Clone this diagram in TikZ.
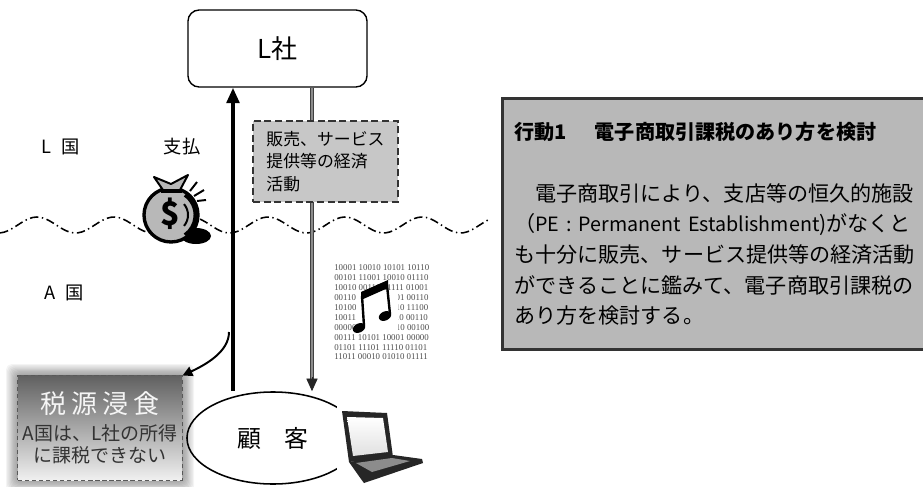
\documentclass[tikz,border=0pt]{standalone}
\usepackage{fontspec}
\setmainfont{Noto Sans CJK JP}
\newfontfamily\binfont{Liberation Serif}
\usetikzlibrary{arrows.meta,shapes.geometric}

\newcommand\actionfont{\fontsize{15}{19.2}\selectfont}

\tikzset{
  firmbox/.style={draw, line width=1pt, rounded corners=0.28cm, fill=white,
    minimum width=4.475cm, minimum height=1.925cm, font=\fontsize{18.5}{20}\selectfont},
  custnode/.style={ellipse, draw, line width=1.1pt, minimum width=4.3cm,
    minimum height=2.3cm, inner sep=0pt, font=\fontsize{17}{20}\selectfont},
  flowbox/.style={draw=black!80, line width=1.1pt, dash pattern=on 5pt off 2.6pt,
    fill=black!22, minimum width=3.625cm, minimum height=2.025cm, align=left,
    inner sep=0pt, font=\fontsize{12}{16}\selectfont},
  taxbox/.style={draw=black!65, line width=0.7pt, densely dashed, top color=black!62,
    bottom color=black!6, minimum width=4.1cm, minimum height=2.6cm, align=center,
    inner sep=0pt, text=black!80, font=\fontsize{13.5}{16}\selectfont},
  actionbox/.style={draw=black!80, line width=1.8pt, fill=black!28, text width=10.3cm,
    inner xsep=0.3cm, minimum height=6.275cm, align=left, font=\actionfont},
  country/.style={font=\fontsize{13}{13}\selectfont, inner sep=0pt},
  payflow/.style={line width=2.6pt, -{Triangle[length=11pt,width=9pt]}},
  sellflow/.style={draw=black!75, line width=0.7pt, double=black!45, double distance=2pt,
    shorten >=8pt},
  selltip/.style={black!85, line width=0.6pt, -{Triangle[length=9pt,width=8pt]}},
  lossflow/.style={line width=1.4pt, -{Triangle[length=7pt,width=7pt]}},
  borderline/.style={line width=1.1pt, dash pattern=on 6pt off 2.5pt on 1pt off 2.5pt},
  bintext/.style={font=\binfont\fontsize{6.3}{6.3}\selectfont, text=black!70,
    inner sep=0pt, anchor=west}
}

\begin{document}
\begin{tikzpicture}[x=0.025cm, y=-0.025cm]
\useasboundingbox (0,0) rectangle (923,487);

% company and customer
\node[firmbox] (firm) at (277.5,48.5) {L社};
\node[custnode] (cust) at (273,438) {顧　客};

% border between the two countries
\draw[borderline] plot[domain=0:488, samples=120] (\x, {225-8*cos(4.6753*(\x-37))});

\node[country] (lland) at (61,147) {L\hspace{0.55em}国};
\node[country] (aland) at (64,293) {A\hspace{0.55em}国};
\node[country] (paylbl) at (182,147) {支払};

% money bag
\fill[black] (196,236) ellipse (15 and 8);
\draw[line width=2.4pt, fill=black!28] (171,215) circle (27);
\draw[line width=3.5pt] (171,215) ++(-55:25) arc (-55:55:25);
\draw[line width=1.4pt] (171,215) ++(-40:17) arc (-40:40:17);
\draw[line width=1.4pt, fill=black!28, line join=round] (163,190) -- (154,177) -- (171,184) -- (188,175) -- (180,190) -- cycle;
\draw[line width=2.2pt] (161,191) -- (182,191);
\draw[line width=1.4pt] (190,191) -- (197,182) (194,196) -- (204,190) (197,201) -- (206,200);
\node (dollar) at (170,214) {\fontsize{23}{23}\selectfont\bfseries\$};

% payment and sales flows
\coordinate (payx) at (233,0);
\coordinate (sellx) at (312,0);
\draw[payflow] (payx |- cust.north) -- (payx |- firm.south);
\draw[sellflow] (sellx |- firm.south) -- (sellx |- cust.north);
\coordinate (sellend) at (sellx |- cust.north);
\draw[selltip] ([yshift=10pt]sellend) -- (sellend);

\node[flowbox] (flow) at (325.5,161.5) {販売、サービス\\提供等の経済\\活動};

% digital content
\foreach \bits [count=\i] in {10001 10010 10101 10110, 00101 11001 10010 01110,
    10010 00110 01111 01001, 00110 01010 11001 00110, 10100 10011 00110 11100,
    10011 01101 01110 00110, 00000 11010 10010 00100, 00111 10101 10001 00000,
    01101 11101 11110 01101, 11011 00010 01010 01111}
  \node[bintext] (bits\i) at (334,258+9.9*\i) {\bits};
\fill[white] (356,292) rectangle (398,332);
\fill[black, rotate around={25:(359,328)}] (359,328) ellipse (6.5 and 4.5);
\fill[black, rotate around={25:(385,316)}] (385,316) ellipse (6.5 and 4.5);
\draw[line width=1.7pt] (364,326) -- (362,296);
\draw[line width=1.7pt] (390,314) -- (387,285);
\fill[black] (361,292) -- (388,280) -- (388,288) -- (361,300) -- cycle;

% tax base erosion
\coordinate (taxsw) at (18,480);
\coordinate (taxne) at (182,376);
\foreach \g in {1,...,10}
  \fill[black, opacity=0.045, rounded corners=4pt]
    ([shift={(-1.2*\g,1.2*\g)}]taxsw) rectangle ([shift={(1.2*\g,-1.2*\g)}]taxne);
\node[taxbox] (tax) at (100,428) {{\fontsize{18.5}{22}\selectfont\color{black!4}税\hspace{3.5pt}源\hspace{3.5pt}浸\hspace{3.5pt}食}\\[3pt]A国は、L社の所得\\に課税できない};

\coordinate (lossstart) at (229,332);
\draw[lossflow] (lossstart) .. controls (229,352) and (205,365) .. (tax.north east);

% laptop
\fill[white] (337,404) -- (392,405) -- (398,452) -- (428,455) -- (366,487) -- (345,487) -- (337,472) -- cycle;
\fill[black!85] (342,411) -- (387,413) -- (393,457) -- (349,462) -- cycle;
\shade[top color=white, bottom color=black!12] (347,417) -- (383,418) -- (388,452) -- (353,456) -- cycle;
\fill[black!85] (349,462) -- (393,455) -- (422,459) -- (423,463) -- (364,483) -- (361,479) -- cycle;
\fill[black!45] (356,463) -- (392,458) -- (410,461) -- (372,472) -- cycle;

% action 1
\node[actionbox, anchor=north west] (action) at (501,97) {\actionfont{\bfseries\fontsize{14.3}{18}\selectfont 行動1\hspace{1.4em}電子商取引課税のあり方を検討}\\[25pt]
　電子商取引により、支店等の恒久的施設\\[2.6pt]
\mbox{（{\fontsize{14}{19.2}\selectfont PE : Permanent Establishment})がなくと}\\[2.6pt]
も十分に販売、サービス提供等の経済活動\\[2.6pt]
ができることに鑑みて、電子商取引課税の\\[2.6pt]
あり方を検討する。};
\end{tikzpicture}
\end{document}
